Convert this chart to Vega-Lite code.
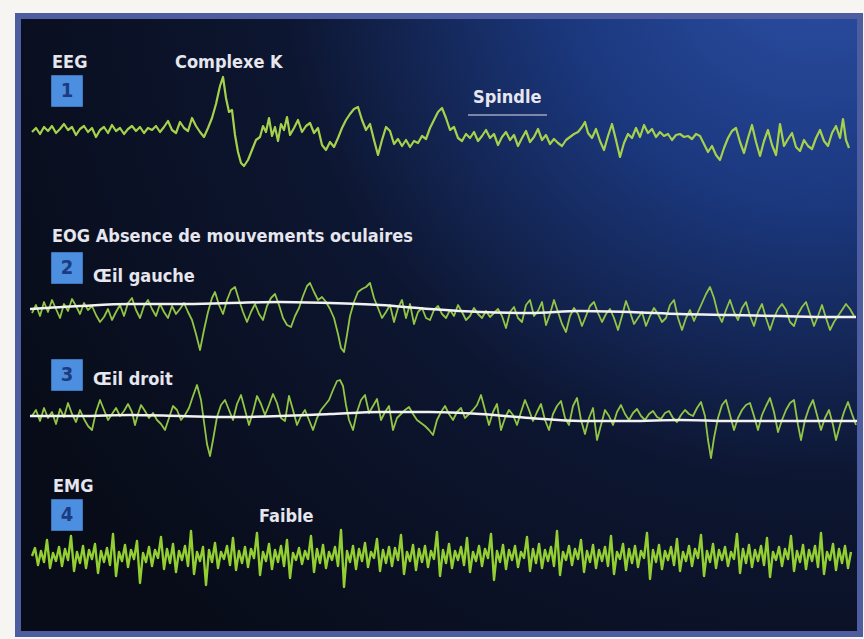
{
  "$schema": "https://vega.github.io/schema/vega-lite/v6.json",
  "width": 842,
  "height": 618,
  "autosize": {"type": "none"},
  "padding": {"left": 18, "top": 16, "right": 4, "bottom": 5},
  "background": "#f6f5f2",
  "config": {
    "view": {
      "fill": {"gradient": "radial", "x1": 0.95, "y1": 0.05, "r1": 0, "x2": 0.95, "y2": 0.05, "r2": 1.1,
        "stops": [{"offset": 0, "color": "#2d4fa6"}, {"offset": 0.28, "color": "#1b387e"}, {"offset": 0.58, "color": "#0d1631"}, {"offset": 1, "color": "#080c18"}]},
      "stroke": "#4d5d9f",
      "strokeWidth": 6
    }
  },
  "datasets": {
    "eeg": [
      {"t":32,"v":132},{"t":36,"v":128},{"t":40,"v":134},{"t":44,"v":127},{"t":48,"v":131},{"t":52,"v":126},{"t":56,"v":133},{"t":60,"v":129},{"t":64,"v":124},{"t":68,"v":130},{"t":72,"v":127},{"t":76,"v":135},{"t":80,"v":129},{"t":84,"v":126},{"t":88,"v":132},{"t":92,"v":128},{"t":96,"v":137},{"t":100,"v":130},{"t":104,"v":127},{"t":108,"v":133},{"t":112,"v":125},{"t":116,"v":131},{"t":120,"v":128},{"t":124,"v":134},{"t":128,"v":129},{"t":132,"v":126},{"t":136,"v":131},{"t":140,"v":127},{"t":144,"v":133},{"t":148,"v":128},{"t":152,"v":130},{"t":156,"v":126},{"t":160,"v":132},{"t":164,"v":127},{"t":168,"v":121},{"t":172,"v":130},{"t":176,"v":133},{"t":180,"v":122},{"t":184,"v":128},{"t":188,"v":131},{"t":192,"v":118},{"t":196,"v":126},{"t":200,"v":132},{"t":204,"v":137},{"t":208,"v":128},{"t":212,"v":118},{"t":216,"v":104},{"t":220,"v":86},{"t":223,"v":77},{"t":226,"v":98},{"t":229,"v":112},{"t":232,"v":110},{"t":235,"v":135},{"t":238,"v":152},{"t":241,"v":163},{"t":244,"v":166},{"t":248,"v":160},{"t":252,"v":150},{"t":256,"v":140},{"t":260,"v":137},{"t":263,"v":126},{"t":266,"v":132},{"t":269,"v":118},{"t":272,"v":136},{"t":275,"v":127},{"t":278,"v":141},{"t":281,"v":124},{"t":284,"v":130},{"t":287,"v":117},{"t":290,"v":135},{"t":294,"v":128},{"t":298,"v":120},{"t":302,"v":132},{"t":306,"v":126},{"t":310,"v":123},{"t":314,"v":133},{"t":318,"v":128},{"t":322,"v":145},{"t":326,"v":150},{"t":330,"v":142},{"t":334,"v":147},{"t":338,"v":138},{"t":342,"v":128},{"t":346,"v":120},{"t":350,"v":114},{"t":354,"v":109},{"t":358,"v":107},{"t":362,"v":120},{"t":366,"v":130},{"t":370,"v":124},{"t":374,"v":140},{"t":378,"v":155},{"t":382,"v":140},{"t":386,"v":127},{"t":390,"v":131},{"t":394,"v":144},{"t":398,"v":139},{"t":402,"v":146},{"t":406,"v":140},{"t":410,"v":147},{"t":414,"v":141},{"t":418,"v":143},{"t":422,"v":136},{"t":426,"v":139},{"t":430,"v":128},{"t":434,"v":120},{"t":438,"v":112},{"t":442,"v":108},{"t":446,"v":118},{"t":450,"v":130},{"t":454,"v":127},{"t":458,"v":138},{"t":462,"v":141},{"t":466,"v":134},{"t":470,"v":138},{"t":474,"v":132},{"t":478,"v":141},{"t":482,"v":136},{"t":486,"v":130},{"t":490,"v":138},{"t":494,"v":134},{"t":498,"v":145},{"t":502,"v":137},{"t":506,"v":132},{"t":510,"v":140},{"t":514,"v":135},{"t":518,"v":146},{"t":522,"v":138},{"t":526,"v":131},{"t":530,"v":142},{"t":534,"v":137},{"t":538,"v":129},{"t":542,"v":140},{"t":546,"v":135},{"t":550,"v":144},{"t":554,"v":139},{"t":558,"v":143},{"t":562,"v":146},{"t":566,"v":140},{"t":570,"v":137},{"t":574,"v":134},{"t":578,"v":132},{"t":582,"v":127},{"t":585,"v":122},{"t":588,"v":133},{"t":592,"v":138},{"t":596,"v":129},{"t":600,"v":141},{"t":604,"v":150},{"t":608,"v":136},{"t":612,"v":124},{"t":616,"v":140},{"t":620,"v":157},{"t":624,"v":143},{"t":628,"v":134},{"t":632,"v":138},{"t":636,"v":128},{"t":640,"v":137},{"t":644,"v":125},{"t":648,"v":133},{"t":652,"v":129},{"t":656,"v":137},{"t":660,"v":132},{"t":664,"v":136},{"t":668,"v":134},{"t":672,"v":140},{"t":676,"v":135},{"t":680,"v":134},{"t":684,"v":137},{"t":688,"v":136},{"t":692,"v":139},{"t":696,"v":134},{"t":700,"v":136},{"t":704,"v":144},{"t":708,"v":152},{"t":712,"v":146},{"t":716,"v":155},{"t":720,"v":160},{"t":724,"v":148},{"t":728,"v":138},{"t":732,"v":131},{"t":736,"v":128},{"t":740,"v":142},{"t":744,"v":153},{"t":748,"v":138},{"t":752,"v":125},{"t":756,"v":142},{"t":760,"v":156},{"t":764,"v":141},{"t":768,"v":130},{"t":772,"v":145},{"t":776,"v":155},{"t":780,"v":124},{"t":784,"v":146},{"t":788,"v":139},{"t":792,"v":133},{"t":796,"v":147},{"t":800,"v":151},{"t":804,"v":140},{"t":808,"v":146},{"t":812,"v":149},{"t":816,"v":138},{"t":820,"v":130},{"t":824,"v":141},{"t":828,"v":146},{"t":832,"v":133},{"t":836,"v":126},{"t":840,"v":138},{"t":843,"v":119},{"t":846,"v":140},{"t":849,"v":148}
    ],
    "eog1": [
      {"t":32,"v":313},{"t":36,"v":305},{"t":40,"v":316},{"t":44,"v":302},{"t":48,"v":312},{"t":52,"v":300},{"t":56,"v":309},{"t":60,"v":318},{"t":64,"v":304},{"t":68,"v":311},{"t":72,"v":299},{"t":76,"v":306},{"t":80,"v":314},{"t":84,"v":303},{"t":88,"v":310},{"t":92,"v":306},{"t":96,"v":315},{"t":100,"v":322},{"t":104,"v":317},{"t":108,"v":309},{"t":112,"v":320},{"t":116,"v":312},{"t":120,"v":305},{"t":124,"v":316},{"t":128,"v":303},{"t":132,"v":298},{"t":136,"v":310},{"t":140,"v":318},{"t":144,"v":306},{"t":148,"v":300},{"t":152,"v":309},{"t":156,"v":316},{"t":160,"v":304},{"t":164,"v":312},{"t":168,"v":318},{"t":172,"v":306},{"t":176,"v":314},{"t":180,"v":309},{"t":184,"v":303},{"t":188,"v":312},{"t":192,"v":320},{"t":196,"v":334},{"t":200,"v":350},{"t":204,"v":330},{"t":208,"v":312},{"t":212,"v":298},{"t":215,"v":292},{"t":219,"v":305},{"t":223,"v":314},{"t":227,"v":300},{"t":231,"v":290},{"t":235,"v":287},{"t":239,"v":300},{"t":243,"v":312},{"t":247,"v":322},{"t":251,"v":312},{"t":255,"v":304},{"t":259,"v":314},{"t":263,"v":320},{"t":267,"v":306},{"t":271,"v":298},{"t":275,"v":294},{"t":279,"v":305},{"t":283,"v":318},{"t":287,"v":325},{"t":291,"v":327},{"t":295,"v":316},{"t":299,"v":308},{"t":303,"v":296},{"t":307,"v":286},{"t":310,"v":283},{"t":314,"v":292},{"t":318,"v":300},{"t":322,"v":297},{"t":326,"v":302},{"t":330,"v":309},{"t":334,"v":318},{"t":338,"v":334},{"t":341,"v":348},{"t":344,"v":352},{"t":347,"v":335},{"t":350,"v":316},{"t":354,"v":302},{"t":358,"v":292},{"t":362,"v":289},{"t":366,"v":287},{"t":370,"v":283},{"t":374,"v":298},{"t":378,"v":308},{"t":382,"v":318},{"t":386,"v":312},{"t":390,"v":305},{"t":394,"v":322},{"t":398,"v":308},{"t":402,"v":300},{"t":406,"v":318},{"t":410,"v":304},{"t":414,"v":324},{"t":418,"v":312},{"t":422,"v":308},{"t":426,"v":318},{"t":430,"v":320},{"t":434,"v":310},{"t":438,"v":306},{"t":442,"v":314},{"t":446,"v":318},{"t":450,"v":310},{"t":454,"v":316},{"t":458,"v":305},{"t":462,"v":312},{"t":466,"v":320},{"t":470,"v":316},{"t":474,"v":308},{"t":478,"v":314},{"t":482,"v":318},{"t":486,"v":311},{"t":490,"v":317},{"t":494,"v":313},{"t":498,"v":309},{"t":502,"v":316},{"t":506,"v":328},{"t":510,"v":312},{"t":514,"v":307},{"t":518,"v":318},{"t":522,"v":322},{"t":526,"v":305},{"t":530,"v":300},{"t":534,"v":316},{"t":538,"v":311},{"t":542,"v":302},{"t":546,"v":325},{"t":550,"v":314},{"t":554,"v":300},{"t":558,"v":312},{"t":562,"v":324},{"t":566,"v":332},{"t":570,"v":316},{"t":574,"v":308},{"t":578,"v":314},{"t":582,"v":326},{"t":586,"v":316},{"t":590,"v":306},{"t":594,"v":302},{"t":598,"v":313},{"t":602,"v":322},{"t":606,"v":314},{"t":610,"v":309},{"t":614,"v":318},{"t":618,"v":330},{"t":622,"v":316},{"t":626,"v":301},{"t":630,"v":312},{"t":634,"v":324},{"t":638,"v":318},{"t":642,"v":312},{"t":646,"v":326},{"t":650,"v":316},{"t":654,"v":308},{"t":658,"v":314},{"t":662,"v":322},{"t":666,"v":318},{"t":670,"v":305},{"t":674,"v":300},{"t":678,"v":318},{"t":682,"v":330},{"t":686,"v":318},{"t":690,"v":310},{"t":694,"v":321},{"t":698,"v":312},{"t":702,"v":303},{"t":706,"v":294},{"t":710,"v":287},{"t":714,"v":298},{"t":718,"v":314},{"t":722,"v":322},{"t":726,"v":310},{"t":730,"v":300},{"t":734,"v":312},{"t":738,"v":320},{"t":742,"v":308},{"t":746,"v":302},{"t":750,"v":316},{"t":754,"v":326},{"t":758,"v":312},{"t":762,"v":304},{"t":766,"v":318},{"t":770,"v":330},{"t":774,"v":318},{"t":778,"v":309},{"t":782,"v":304},{"t":786,"v":310},{"t":790,"v":322},{"t":794,"v":326},{"t":798,"v":314},{"t":802,"v":307},{"t":806,"v":302},{"t":810,"v":314},{"t":814,"v":326},{"t":818,"v":316},{"t":822,"v":305},{"t":826,"v":318},{"t":830,"v":330},{"t":834,"v":322},{"t":838,"v":316},{"t":842,"v":310},{"t":846,"v":304},{"t":850,"v":309},{"t":854,"v":316}
    ],
    "eog1w": [
      {"t":30,"v":309},{"t":80,"v":306},{"t":130,"v":304},{"t":180,"v":304},{"t":230,"v":303},{"t":280,"v":302},{"t":330,"v":303},{"t":380,"v":305},{"t":430,"v":309},{"t":480,"v":312},{"t":530,"v":313},{"t":580,"v":311},{"t":630,"v":312},{"t":680,"v":314},{"t":730,"v":315},{"t":780,"v":316},{"t":830,"v":317},{"t":856,"v":317}
    ],
    "eog2": [
      {"t":32,"v":416},{"t":36,"v":410},{"t":40,"v":421},{"t":44,"v":408},{"t":48,"v":418},{"t":52,"v":412},{"t":56,"v":424},{"t":60,"v":409},{"t":64,"v":417},{"t":68,"v":403},{"t":72,"v":414},{"t":76,"v":422},{"t":80,"v":410},{"t":84,"v":419},{"t":88,"v":426},{"t":92,"v":430},{"t":96,"v":412},{"t":100,"v":400},{"t":104,"v":410},{"t":108,"v":420},{"t":112,"v":414},{"t":116,"v":408},{"t":120,"v":416},{"t":124,"v":411},{"t":128,"v":404},{"t":132,"v":412},{"t":135,"v":425},{"t":138,"v":414},{"t":141,"v":405},{"t":145,"v":411},{"t":149,"v":418},{"t":153,"v":413},{"t":157,"v":420},{"t":161,"v":424},{"t":165,"v":430},{"t":169,"v":418},{"t":173,"v":406},{"t":177,"v":410},{"t":181,"v":420},{"t":185,"v":415},{"t":189,"v":408},{"t":193,"v":396},{"t":197,"v":385},{"t":201,"v":400},{"t":204,"v":422},{"t":207,"v":444},{"t":210,"v":456},{"t":213,"v":440},{"t":217,"v":417},{"t":221,"v":405},{"t":225,"v":400},{"t":229,"v":410},{"t":233,"v":420},{"t":237,"v":404},{"t":241,"v":395},{"t":245,"v":410},{"t":249,"v":425},{"t":253,"v":412},{"t":257,"v":396},{"t":261,"v":404},{"t":265,"v":415},{"t":269,"v":405},{"t":273,"v":394},{"t":277,"v":403},{"t":281,"v":418},{"t":285,"v":421},{"t":289,"v":396},{"t":293,"v":410},{"t":297,"v":425},{"t":301,"v":416},{"t":305,"v":410},{"t":309,"v":420},{"t":313,"v":430},{"t":317,"v":418},{"t":321,"v":410},{"t":325,"v":405},{"t":329,"v":400},{"t":333,"v":390},{"t":337,"v":381},{"t":340,"v":380},{"t":343,"v":386},{"t":346,"v":405},{"t":349,"v":420},{"t":353,"v":430},{"t":357,"v":412},{"t":361,"v":400},{"t":365,"v":395},{"t":369,"v":413},{"t":373,"v":406},{"t":377,"v":399},{"t":381,"v":420},{"t":385,"v":412},{"t":389,"v":406},{"t":393,"v":430},{"t":397,"v":418},{"t":401,"v":414},{"t":405,"v":410},{"t":409,"v":407},{"t":413,"v":414},{"t":417,"v":420},{"t":421,"v":423},{"t":425,"v":426},{"t":429,"v":430},{"t":433,"v":435},{"t":437,"v":420},{"t":441,"v":412},{"t":445,"v":406},{"t":449,"v":414},{"t":453,"v":420},{"t":457,"v":412},{"t":461,"v":408},{"t":465,"v":418},{"t":469,"v":414},{"t":473,"v":410},{"t":477,"v":405},{"t":481,"v":395},{"t":485,"v":410},{"t":489,"v":425},{"t":493,"v":412},{"t":497,"v":404},{"t":501,"v":430},{"t":505,"v":418},{"t":509,"v":410},{"t":513,"v":415},{"t":517,"v":425},{"t":521,"v":412},{"t":525,"v":400},{"t":529,"v":410},{"t":533,"v":421},{"t":537,"v":412},{"t":541,"v":404},{"t":545,"v":420},{"t":549,"v":430},{"t":553,"v":414},{"t":557,"v":406},{"t":561,"v":401},{"t":565,"v":418},{"t":569,"v":425},{"t":573,"v":406},{"t":577,"v":398},{"t":581,"v":420},{"t":585,"v":434},{"t":589,"v":418},{"t":593,"v":408},{"t":597,"v":440},{"t":601,"v":425},{"t":605,"v":410},{"t":609,"v":416},{"t":613,"v":425},{"t":617,"v":412},{"t":621,"v":405},{"t":625,"v":414},{"t":629,"v":420},{"t":633,"v":413},{"t":637,"v":409},{"t":641,"v":416},{"t":645,"v":420},{"t":649,"v":414},{"t":653,"v":411},{"t":657,"v":417},{"t":661,"v":419},{"t":665,"v":413},{"t":669,"v":411},{"t":673,"v":418},{"t":677,"v":422},{"t":681,"v":415},{"t":685,"v":410},{"t":689,"v":414},{"t":693,"v":416},{"t":697,"v":408},{"t":701,"v":402},{"t":705,"v":416},{"t":708,"v":440},{"t":711,"v":458},{"t":714,"v":438},{"t":718,"v":418},{"t":722,"v":405},{"t":726,"v":400},{"t":730,"v":415},{"t":734,"v":430},{"t":738,"v":418},{"t":742,"v":410},{"t":746,"v":405},{"t":750,"v":403},{"t":754,"v":416},{"t":758,"v":430},{"t":762,"v":415},{"t":766,"v":406},{"t":770,"v":398},{"t":774,"v":412},{"t":778,"v":432},{"t":782,"v":420},{"t":786,"v":410},{"t":790,"v":403},{"t":794,"v":400},{"t":798,"v":425},{"t":801,"v":440},{"t":805,"v":420},{"t":809,"v":408},{"t":813,"v":400},{"t":817,"v":415},{"t":821,"v":430},{"t":825,"v":418},{"t":829,"v":410},{"t":833,"v":425},{"t":836,"v":440},{"t":840,"v":425},{"t":844,"v":412},{"t":848,"v":402},{"t":852,"v":414},{"t":856,"v":425}
    ],
    "eog2w": [
      {"t":30,"v":416},{"t":80,"v":416},{"t":130,"v":415},{"t":180,"v":416},{"t":230,"v":417},{"t":280,"v":416},{"t":330,"v":414},{"t":380,"v":412},{"t":430,"v":412},{"t":480,"v":414},{"t":530,"v":418},{"t":580,"v":421},{"t":630,"v":421},{"t":680,"v":420},{"t":730,"v":421},{"t":780,"v":421},{"t":830,"v":421},{"t":857,"v":421}
    ],
    "emg": [
      {"t":32,"v":556},{"t":35,"v":548},{"t":38,"v":565},{"t":41,"v":551},{"t":44,"v":562},{"t":47,"v":540},{"t":50,"v":568},{"t":53,"v":553},{"t":56,"v":561},{"t":59,"v":547},
      {"t":62,"v":566},{"t":65,"v":549},{"t":68,"v":560},{"t":71,"v":536},{"t":74,"v":571},{"t":77,"v":552},{"t":80,"v":563},{"t":83,"v":546},{"t":86,"v":568},{"t":89,"v":550},
      {"t":92,"v":559},{"t":95,"v":544},{"t":98,"v":573},{"t":101,"v":551},{"t":104,"v":562},{"t":107,"v":548},{"t":110,"v":565},{"t":113,"v":534},{"t":116,"v":576},{"t":119,"v":552},
      {"t":122,"v":561},{"t":125,"v":545},{"t":128,"v":567},{"t":131,"v":550},{"t":134,"v":559},{"t":137,"v":541},{"t":140,"v":583},{"t":143,"v":553},{"t":146,"v":562},{"t":149,"v":547},
      {"t":152,"v":566},{"t":155,"v":550},{"t":158,"v":558},{"t":161,"v":537},{"t":164,"v":569},{"t":167,"v":549},{"t":170,"v":563},{"t":173,"v":544},{"t":176,"v":572},{"t":179,"v":551},
      {"t":182,"v":560},{"t":185,"v":546},{"t":188,"v":566},{"t":191,"v":531},{"t":194,"v":574},{"t":197,"v":552},{"t":200,"v":561},{"t":203,"v":547},{"t":206,"v":585},{"t":209,"v":550},
      {"t":212,"v":562},{"t":215,"v":543},{"t":218,"v":568},{"t":221,"v":552},{"t":224,"v":559},{"t":227,"v":546},{"t":230,"v":565},{"t":233,"v":538},{"t":236,"v":570},{"t":239,"v":551},
      {"t":242,"v":563},{"t":245,"v":547},{"t":248,"v":567},{"t":251,"v":549},{"t":254,"v":558},{"t":257,"v":533},{"t":260,"v":575},{"t":263,"v":552},{"t":266,"v":561},{"t":269,"v":544},
      {"t":272,"v":569},{"t":275,"v":550},{"t":278,"v":562},{"t":281,"v":546},{"t":284,"v":566},{"t":287,"v":540},{"t":290,"v":578},{"t":293,"v":553},{"t":296,"v":560},{"t":299,"v":548},
      {"t":302,"v":564},{"t":305,"v":551},{"t":308,"v":559},{"t":311,"v":536},{"t":314,"v":572},{"t":317,"v":549},{"t":320,"v":563},{"t":323,"v":545},{"t":326,"v":568},{"t":329,"v":552},
      {"t":332,"v":560},{"t":335,"v":547},{"t":338,"v":566},{"t":341,"v":530},{"t":344,"v":587},{"t":347,"v":551},{"t":350,"v":562},{"t":353,"v":546},{"t":356,"v":569},{"t":359,"v":549},
      {"t":362,"v":561},{"t":365,"v":543},{"t":368,"v":567},{"t":371,"v":552},{"t":374,"v":558},{"t":377,"v":539},{"t":380,"v":571},{"t":383,"v":550},{"t":386,"v":563},{"t":389,"v":547},
      {"t":392,"v":566},{"t":395,"v":548},{"t":398,"v":560},{"t":401,"v":535},{"t":404,"v":574},{"t":407,"v":552},{"t":410,"v":561},{"t":413,"v":545},{"t":416,"v":570},{"t":419,"v":549},
      {"t":422,"v":562},{"t":425,"v":546},{"t":428,"v":567},{"t":431,"v":551},{"t":434,"v":559},{"t":437,"v":532},{"t":440,"v":576},{"t":443,"v":550},{"t":446,"v":563},{"t":449,"v":544},
      {"t":452,"v":568},{"t":455,"v":551},{"t":458,"v":560},{"t":461,"v":547},{"t":464,"v":565},{"t":467,"v":538},{"t":470,"v":572},{"t":473,"v":552},{"t":476,"v":561},{"t":479,"v":546},
      {"t":482,"v":566},{"t":485,"v":549},{"t":488,"v":558},{"t":491,"v":534},{"t":494,"v":580},{"t":497,"v":551},{"t":500,"v":562},{"t":503,"v":545},{"t":506,"v":569},{"t":509,"v":550},
      {"t":512,"v":560},{"t":515,"v":546},{"t":518,"v":567},{"t":521,"v":552},{"t":524,"v":558},{"t":527,"v":537},{"t":530,"v":571},{"t":533,"v":549},{"t":536,"v":563},{"t":539,"v":544},
      {"t":542,"v":568},{"t":545,"v":550},{"t":548,"v":561},{"t":551,"v":547},{"t":554,"v":566},{"t":557,"v":531},{"t":560,"v":575},{"t":563,"v":552},{"t":566,"v":560},{"t":569,"v":546},
      {"t":572,"v":565},{"t":575,"v":549},{"t":578,"v":559},{"t":581,"v":540},{"t":584,"v":572},{"t":587,"v":551},{"t":590,"v":562},{"t":593,"v":545},{"t":596,"v":568},{"t":599,"v":550},
      {"t":602,"v":561},{"t":605,"v":547},{"t":608,"v":566},{"t":611,"v":536},{"t":614,"v":574},{"t":617,"v":552},{"t":620,"v":559},{"t":623,"v":544},{"t":626,"v":570},{"t":629,"v":549},
      {"t":632,"v":563},{"t":635,"v":546},{"t":638,"v":567},{"t":641,"v":551},{"t":644,"v":558},{"t":647,"v":533},{"t":650,"v":579},{"t":653,"v":550},{"t":656,"v":562},{"t":659,"v":545},
      {"t":662,"v":569},{"t":665,"v":551},{"t":668,"v":560},{"t":671,"v":547},{"t":674,"v":565},{"t":677,"v":539},{"t":680,"v":571},{"t":683,"v":552},{"t":686,"v":561},{"t":689,"v":546},
      {"t":692,"v":566},{"t":695,"v":549},{"t":698,"v":558},{"t":701,"v":535},{"t":704,"v":576},{"t":707,"v":551},{"t":710,"v":562},{"t":713,"v":544},{"t":716,"v":568},{"t":719,"v":550},
      {"t":722,"v":560},{"t":725,"v":547},{"t":728,"v":566},{"t":731,"v":552},{"t":734,"v":559},{"t":737,"v":534},{"t":740,"v":573},{"t":743,"v":549},{"t":746,"v":563},{"t":749,"v":545},
      {"t":752,"v":567},{"t":755,"v":550},{"t":758,"v":561},{"t":761,"v":546},{"t":764,"v":565},{"t":767,"v":538},{"t":770,"v":577},{"t":773,"v":552},{"t":776,"v":560},{"t":779,"v":547},
      {"t":782,"v":566},{"t":785,"v":549},{"t":788,"v":559},{"t":791,"v":536},{"t":794,"v":571},{"t":797,"v":551},{"t":800,"v":562},{"t":803,"v":545},{"t":806,"v":569},{"t":809,"v":550},
      {"t":812,"v":561},{"t":815,"v":546},{"t":818,"v":567},{"t":821,"v":533},{"t":824,"v":574},{"t":827,"v":552},{"t":830,"v":560},{"t":833,"v":544},{"t":836,"v":570},{"t":839,"v":549},
      {"t":842,"v":563},{"t":845,"v":546},{"t":848,"v":568},{"t":851,"v":552}
    ],
    "labels": [
      {"txt":"EEG","t":52,"v":68},
      {"txt":"Complexe K","t":175,"v":68},
      {"txt":"Spindle","t":473,"v":103},
      {"txt":"EOG  Absence de mouvements oculaires","t":52,"v":242},
      {"txt":"Œil gauche","t":93,"v":282},
      {"txt":"Œil droit","t":93,"v":385},
      {"txt":"EMG","t":53,"v":492},
      {"txt":"Faible","t":259,"v":522}
    ],
    "boxes": [
      {"n":"1","t":67,"v":91},
      {"n":"2","t":67,"v":268},
      {"n":"3","t":67,"v":375},
      {"n":"4","t":67,"v":515}
    ],
    "spindle": [
      {"t":468,"t2":547,"v":115}
    ]
  },
  "encoding": {
    "x": {"field": "t", "type": "quantitative", "scale": {"domain": [18, 860], "nice": false, "zero": false}, "axis": null},
    "y": {"field": "v", "type": "quantitative", "scale": {"domain": [16, 634], "reverse": true, "nice": false, "zero": false}, "axis": null}
  },
  "layer": [
    {"data": {"name": "eeg"}, "mark": {"type": "line", "color": "#a6d14c", "strokeWidth": 2.2, "strokeJoin": "round"}},
    {"data": {"name": "eog1"}, "mark": {"type": "line", "color": "#92c545", "strokeWidth": 1.8, "strokeJoin": "round"}},
    {"data": {"name": "eog2"}, "mark": {"type": "line", "color": "#92c545", "strokeWidth": 1.8, "strokeJoin": "round"}},
    {"data": {"name": "emg"}, "mark": {"type": "line", "color": "#93cf32", "strokeWidth": 2.4, "strokeJoin": "round"}},
    {"data": {"name": "eog1w"}, "mark": {"type": "line", "color": "#f2f2f2", "strokeWidth": 2.5, "interpolate": "monotone"}},
    {"data": {"name": "eog2w"}, "mark": {"type": "line", "color": "#f2f2f2", "strokeWidth": 2.5, "interpolate": "monotone"}},
    {"data": {"name": "spindle"}, "mark": {"type": "rule", "color": "#9ea4bf", "strokeWidth": 1.5}, "encoding": {"x2": {"field": "t2"}}},
    {"data": {"name": "boxes"}, "mark": {"type": "square", "size": 1000, "filled": true, "color": "#4c8fe0", "opacity": 1}},
    {"data": {"name": "boxes"}, "mark": {"type": "text", "color": "#1c3c80", "fontSize": 20, "fontWeight": "bold", "font": "DejaVu Sans Condensed, sans-serif", "baseline": "middle", "align": "center"}, "encoding": {"text": {"field": "n"}}},
    {"data": {"name": "labels"}, "mark": {"type": "text", "color": "#e6e6ee", "fontSize": 18, "fontWeight": "bold", "font": "DejaVu Sans Condensed, sans-serif", "baseline": "alphabetic", "align": "left"}, "encoding": {"text": {"field": "txt"}}}
  ]
}
